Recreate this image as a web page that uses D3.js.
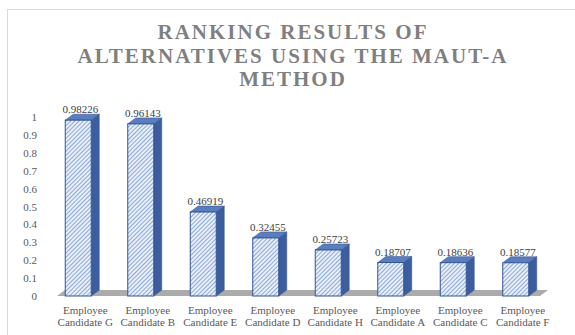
<!DOCTYPE html>
<html>
<head>
<meta charset="utf-8">
<script src="https://cdn.jsdelivr.net/npm/d3@7"></script>
<style>
  body { margin: 0; background: #fff; }
  svg { display: block; }
  svg text { font-family: 'Liberation Serif', 'Times New Roman', 'DejaVu Serif', serif; }
</style>
</head>
<body>
<div id="chart"></div>
<script>
const categories = ['Employee Candidate G', 'Employee Candidate B', 'Employee Candidate E', 'Employee Candidate D',
                    'Employee Candidate H', 'Employee Candidate A', 'Employee Candidate C', 'Employee Candidate F'];
const scores = [0.98226, 0.96143, 0.46919, 0.32455, 0.25723, 0.18707, 0.18636, 0.18577];
const yTicks = [0, 0.1, 0.2, 0.3, 0.4, 0.5, 0.6, 0.7, 0.8, 0.9, 1];
const titleLines = ['RANKING RESULTS OF', 'ALTERNATIVES USING THE MAUT-A', 'METHOD'];

const width = 575;
const height = 335;
const depthX = 8;
const depthY = 6;

const svg = d3.select('#chart')
    .append('svg')
        .attr('width', width)
        .attr('height', height);

// hatch for the bar fronts
const defs = svg.append('defs');
const hatch = defs.append('pattern')
    .attr('id', 'hatch')
    .attr('patternUnits', 'userSpaceOnUse')
    .attr('width', 3)
    .attr('height', 3)
    .attr('patternTransform', 'rotate(45)');
hatch.append('rect')
    .attr('width', 3)
    .attr('height', 3)
    .attr('fill', '#e8eff9');
hatch.append('line')
    .attr('x1', 0).attr('y1', 0)
    .attr('x2', 0).attr('y2', 3)
    .attr('stroke', '#5b82c6')
    .attr('stroke-width', 1.3);

// chart border
svg.append('rect')
    .attr('x', 7.5)
    .attr('y', 9.5)
    .attr('width', 600)
    .attr('height', 340)
    .attr('fill', 'none')
    .attr('stroke', '#d9d9d9');

svg.append('g')
    .selectAll('text')
    .data(titleLines)
    .join('text')
        .attr('x', 293)
        .attr('y', (d, i) => 39 + i * 23.5)
        .attr('text-anchor', 'middle')
        .attr('font-weight', 'bold')
        .attr('font-size', 21)
        .attr('letter-spacing', 2)
        .attr('fill', '#7f7f7f')
        .text(d => d);

const x = d3.scaleBand()
    .domain(categories)
    .range([54, 554]);

const y = d3.scaleLinear()
    .domain([0, 1])
    .range([296, 117]);

// y axis (labels only)
svg.append('g')
    .attr('transform', 'translate(42,0)')
    .call(d3.axisLeft(y).tickValues(yTicks).tickSize(0).tickPadding(5).tickFormat(d3.format('~g')))
    .call(g => g.select('.domain').remove())
    .call(g => g.attr('font-family', null))
    .call(g => g.selectAll('text')
        .attr('font-size', 11)
        .attr('fill', '#595959'));

// floor
const floorLeft = 57;
const floorRight = 540;
svg.append('path')
    .attr('d', `M${floorLeft},${y(0)} L${floorRight},${y(0)} L${floorRight + depthX},${y(0) - depthY} L${floorLeft + depthX},${y(0) - depthY} Z`)
    .attr('fill', '#ababab');

const barW = 26;
const frontX = d => x(d) + x.bandwidth() / 2 - 20;

const bars = svg.append('g')
    .selectAll('g')
    .data(categories)
    .join('g');

// side face
bars.append('path')
    .attr('d', (d, i) => {
        const x1 = frontX(d) + barW;
        const top = y(scores[i]);
        const bot = y(0);
        return `M${x1},${bot} L${x1},${top} L${x1 + depthX},${top - depthY} L${x1 + depthX},${bot - depthY} Z`;
    })
    .attr('fill', '#3d5e9e')
    .attr('stroke', '#2f4f8a')
    .attr('stroke-width', 0.5);

// top face
bars.append('path')
    .attr('d', (d, i) => {
        const x0 = frontX(d);
        const top = y(scores[i]);
        return `M${x0},${top} L${x0 + barW},${top} L${x0 + barW + depthX},${top - depthY} L${x0 + depthX},${top - depthY} Z`;
    })
    .attr('fill', '#5a7dc0')
    .attr('stroke', '#2f4f8a')
    .attr('stroke-width', 0.5);

// front face
bars.append('rect')
    .attr('x', d => frontX(d))
    .attr('y', (d, i) => y(scores[i]))
    .attr('width', barW)
    .attr('height', (d, i) => y(0) - y(scores[i]))
    .attr('fill', 'url(#hatch)')
    .attr('stroke', '#2f5597')
    .attr('stroke-width', 1);

// value labels
bars.append('text')
    .attr('x', d => frontX(d) + barW / 2 + 2)
    .attr('y', (d, i) => y(scores[i]) - depthY - 1)
    .attr('text-anchor', 'middle')
    .attr('font-size', 11)
    .attr('fill', '#404040')
    .text((d, i) => scores[i]);

// category labels
const catText = bars.append('text')
    .attr('text-anchor', 'middle')
    .attr('font-size', 11)
    .attr('fill', '#595959');
catText.append('tspan')
    .attr('x', d => x(d) + x.bandwidth() / 2)
    .attr('y', 314)
    .text(d => d.split(' ')[0]);
catText.append('tspan')
    .attr('x', d => x(d) + x.bandwidth() / 2)
    .attr('y', 326)
    .text(d => d.split(' ').slice(1).join(' '));
</script>
</body>
</html>
